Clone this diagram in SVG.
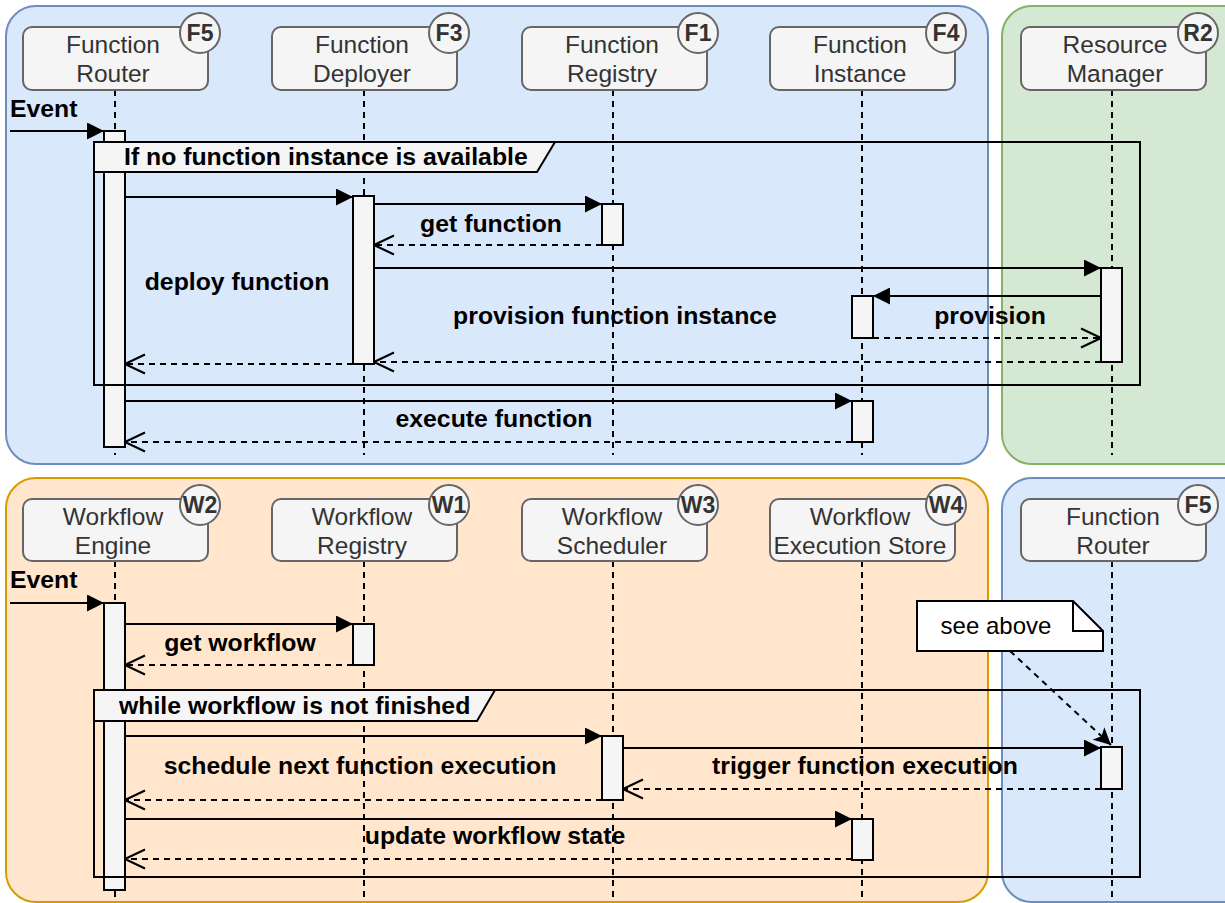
<svg xmlns="http://www.w3.org/2000/svg" width="1225" height="903" viewBox="0 0 1225 903">
<defs>
<style>
.hdr{fill:#f5f5f5;stroke:#666666;stroke-width:2}
.ht{font-family:"Liberation Sans",Arial,sans-serif;font-size:24.5px;fill:#333333;text-anchor:middle}
.bt{font-family:"Liberation Sans",Arial,sans-serif;font-size:23px;font-weight:bold;fill:#333333;text-anchor:middle}
.life{stroke:#000;stroke-width:2;stroke-dasharray:6 5;fill:none}
.act{fill:#f5f5f5;stroke:#000;stroke-width:2}
.msg{stroke:#000;stroke-width:2;fill:none}
.ret{stroke:#000;stroke-width:2;fill:none;stroke-dasharray:6 5}
.lbl{font-family:"Liberation Sans",Arial,sans-serif;font-size:24.8px;font-weight:bold;fill:#000;text-anchor:middle}
.lbs{font-family:"Liberation Sans",Arial,sans-serif;font-size:24.8px;font-weight:bold;fill:#000}
.frame{fill:none;stroke:#000;stroke-width:2}
.tab{fill:#f5f5f5;stroke:#000;stroke-width:2}
</style>
<marker id="fa" viewBox="0 0 17 17" refX="17" refY="8.5" markerWidth="17" markerHeight="17" markerUnits="userSpaceOnUse" orient="auto">
<path d="M0,0 L17,8.5 L0,17 Z" fill="#000"/>
</marker>
<marker id="oa" viewBox="0 0 22 22" refX="21" refY="11" markerWidth="22" markerHeight="22" markerUnits="userSpaceOnUse" orient="auto">
<path d="M1,1.5 L21,11 L1,20.5" fill="none" stroke="#000" stroke-width="2"/>
</marker>
<marker id="ca" viewBox="0 0 17 17" refX="17" refY="8.5" markerWidth="17" markerHeight="17" markerUnits="userSpaceOnUse" orient="auto">
<path d="M0,0 L17,8.5 L0,17 L4,8.5 Z" fill="#000"/>
</marker>
</defs>

<g id="containers">
<rect x="6" y="6" width="982" height="458" rx="30" fill="#dae8fc" stroke="#6c8ebf" stroke-width="2"/>
<rect x="1002" y="6" width="260" height="458" rx="30" fill="#d5e8d4" stroke="#82b366" stroke-width="2"/>
<rect x="6" y="478" width="982" height="424" rx="30" fill="#ffe6cc" stroke="#d79b00" stroke-width="2"/>
<rect x="1002" y="478" width="260" height="424" rx="30" fill="#dae8fc" stroke="#6c8ebf" stroke-width="2"/>
</g>

<g id="lifelines">
<line class="life" x1="115" y1="90" x2="115" y2="455"/>
<line class="life" x1="364" y1="90" x2="364" y2="455"/>
<line class="life" x1="613" y1="90" x2="613" y2="455"/>
<line class="life" x1="862" y1="90" x2="862" y2="455"/>
<line class="life" x1="1112" y1="90" x2="1112" y2="455"/>
<line class="life" x1="115" y1="561" x2="115" y2="900"/>
<line class="life" x1="364" y1="561" x2="364" y2="900"/>
<line class="life" x1="613" y1="561" x2="613" y2="900"/>
<line class="life" x1="862" y1="561" x2="862" y2="900"/>
<line class="life" x1="1112" y1="561" x2="1112" y2="900"/>
</g>

<g id="node-function-router">
<rect class="hdr" x="23" y="27" width="185" height="63" rx="9"/>
<text class="ht" x="113" y="53">Function</text><text class="ht" x="113" y="82">Router</text>
<circle class="hdr" cx="200" cy="33" r="20"/><text class="bt" x="200" y="41">F5</text>
</g>
<g id="node-function-deployer">
<rect class="hdr" x="272" y="27" width="185" height="63" rx="9"/>
<text class="ht" x="362" y="53">Function</text><text class="ht" x="362" y="82">Deployer</text>
<circle class="hdr" cx="449" cy="33" r="20"/><text class="bt" x="449" y="41">F3</text>
</g>
<g id="node-function-registry">
<rect class="hdr" x="522" y="27" width="185" height="63" rx="9"/>
<text class="ht" x="612" y="53">Function</text><text class="ht" x="612" y="82">Registry</text>
<circle class="hdr" cx="698" cy="33" r="20"/><text class="bt" x="698" y="41">F1</text>
</g>
<g id="node-function-instance">
<rect class="hdr" x="770" y="27" width="185" height="63" rx="9"/>
<text class="ht" x="860" y="53">Function</text><text class="ht" x="860" y="82">Instance</text>
<circle class="hdr" cx="946" cy="33" r="20"/><text class="bt" x="946" y="41">F4</text>
</g>
<g id="node-resource-manager">
<rect class="hdr" x="1021" y="27" width="185" height="63" rx="9"/>
<text class="ht" x="1115" y="53">Resource</text><text class="ht" x="1115" y="82">Manager</text>
<circle class="hdr" cx="1198" cy="33" r="20"/><text class="bt" x="1198" y="41">R2</text>
</g>

<g id="node-workflow-engine">
<rect class="hdr" x="23" y="499" width="185" height="62" rx="9"/>
<text class="ht" x="113" y="525">Workflow</text><text class="ht" x="113" y="554">Engine</text>
<circle class="hdr" cx="200" cy="505" r="20"/><text class="bt" x="200" y="513">W2</text>
</g>
<g id="node-workflow-registry">
<rect class="hdr" x="272" y="499" width="185" height="62" rx="9"/>
<text class="ht" x="362" y="525">Workflow</text><text class="ht" x="362" y="554">Registry</text>
<circle class="hdr" cx="449" cy="505" r="20"/><text class="bt" x="449" y="513">W1</text>
</g>
<g id="node-workflow-scheduler">
<rect class="hdr" x="522" y="499" width="185" height="62" rx="9"/>
<text class="ht" x="612" y="525">Workflow</text><text class="ht" x="612" y="554">Scheduler</text>
<circle class="hdr" cx="698" cy="505" r="20"/><text class="bt" x="698" y="513">W3</text>
</g>
<g id="node-workflow-execution-store">
<rect class="hdr" x="770" y="499" width="185" height="62" rx="9"/>
<text class="ht" x="860" y="525">Workflow</text><text class="ht" x="860" y="554">Execution Store</text>
<circle class="hdr" cx="946" cy="505" r="20"/><text class="bt" x="946" y="513">W4</text>
</g>
<g id="node-function-router-2">
<rect class="hdr" x="1021" y="499" width="185" height="62" rx="9"/>
<text class="ht" x="1113" y="525">Function</text><text class="ht" x="1113" y="554">Router</text>
<circle class="hdr" cx="1198" cy="505" r="20"/><text class="bt" x="1198" y="513">F5</text>
</g>

<g id="activations">
<rect class="act" x="104" y="131" width="21" height="316"/>
<rect class="act" x="353" y="196" width="21" height="168"/>
<rect class="act" x="602" y="204" width="21" height="41"/>
<rect class="act" x="1101" y="268" width="21" height="94"/>
<rect class="act" x="852" y="296" width="21" height="42"/>
<rect class="act" x="852" y="401" width="21" height="41"/>
<rect class="act" x="104" y="603" width="21" height="287"/>
<rect class="act" x="353" y="624" width="21" height="41"/>
<rect class="act" x="602" y="736" width="21" height="64"/>
<rect class="act" x="1101" y="747" width="21" height="42"/>
<rect class="act" x="852" y="819" width="21" height="41"/>
</g>

<g id="frames">
<rect class="frame" x="94" y="142" width="1046" height="243"/>
<path class="tab" d="M94,142 L555,142 L537,172 L94,172 Z"/>
<text class="lbs" x="124" y="165">If no function instance is available</text>
<rect class="frame" x="94" y="690" width="1046" height="187"/>
<path class="tab" d="M94,690 L495,690 L477,721 L94,721 Z"/>
<text class="lbs" x="119" y="714">while workflow is not finished</text>
</g>

<g id="connectors">
<line class="msg" x1="10" y1="131" x2="104" y2="131" marker-end="url(#fa)"/>
<line class="msg" x1="125" y1="197" x2="353" y2="197" marker-end="url(#fa)"/>
<line class="msg" x1="374" y1="204" x2="602" y2="204" marker-end="url(#fa)"/>
<line class="ret" x1="602" y1="245" x2="374" y2="245" marker-end="url(#oa)"/>
<line class="msg" x1="374" y1="268" x2="1101" y2="268" marker-end="url(#fa)"/>
<line class="msg" x1="1101" y1="296" x2="873" y2="296" marker-end="url(#fa)"/>
<line class="ret" x1="873" y1="338" x2="1101" y2="338" marker-end="url(#oa)"/>
<line class="ret" x1="1101" y1="362" x2="374" y2="362" marker-end="url(#oa)"/>
<line class="ret" x1="353" y1="364" x2="125" y2="364" marker-end="url(#oa)"/>
<line class="msg" x1="125" y1="401" x2="852" y2="401" marker-end="url(#fa)"/>
<line class="ret" x1="852" y1="442" x2="125" y2="442" marker-end="url(#oa)"/>

<line class="msg" x1="10" y1="603" x2="104" y2="603" marker-end="url(#fa)"/>
<line class="msg" x1="125" y1="624" x2="353" y2="624" marker-end="url(#fa)"/>
<line class="ret" x1="353" y1="665" x2="125" y2="665" marker-end="url(#oa)"/>
<line class="msg" x1="125" y1="736" x2="602" y2="736" marker-end="url(#fa)"/>
<line class="msg" x1="623" y1="748" x2="1101" y2="748" marker-end="url(#fa)"/>
<line class="ret" x1="1101" y1="789" x2="623" y2="789" marker-end="url(#oa)"/>
<line class="ret" x1="602" y1="800" x2="125" y2="800" marker-end="url(#oa)"/>
<line class="msg" x1="125" y1="819" x2="852" y2="819" marker-end="url(#fa)"/>
<line class="ret" x1="852" y1="859" x2="125" y2="859" marker-end="url(#oa)"/>
<line class="ret" x1="1010" y1="651" x2="1111" y2="745" marker-end="url(#ca)"/>
</g>

<g id="labels">
<text class="lbs" x="10" y="117">Event</text>
<text class="lbs" x="10" y="588">Event</text>
<text class="lbl" x="237" y="290">deploy function</text>
<text class="lbl" x="491" y="232">get function</text>
<text class="lbl" x="615" y="324">provision function instance</text>
<text class="lbl" x="990" y="324">provision</text>
<text class="lbl" x="494" y="427">execute function</text>
<text class="lbl" x="240" y="651">get workflow</text>
<text class="lbl" x="360" y="774">schedule next function execution</text>
<text class="lbl" x="865" y="774">trigger function execution</text>
<text class="lbl" x="495" y="844">update workflow state</text>
</g>

<g id="note-see-above">
<path d="M917,601 L1073,601 L1103,631 L1103,651 L917,651 Z" fill="#ffffff" stroke="#000" stroke-width="2"/>
<path d="M1073,601 L1073,631 L1103,631" fill="none" stroke="#000" stroke-width="2"/>
<text x="996" y="634" font-family="'Liberation Sans',Arial,sans-serif" font-size="24" fill="#000" text-anchor="middle">see above</text>
</g>
</svg>
